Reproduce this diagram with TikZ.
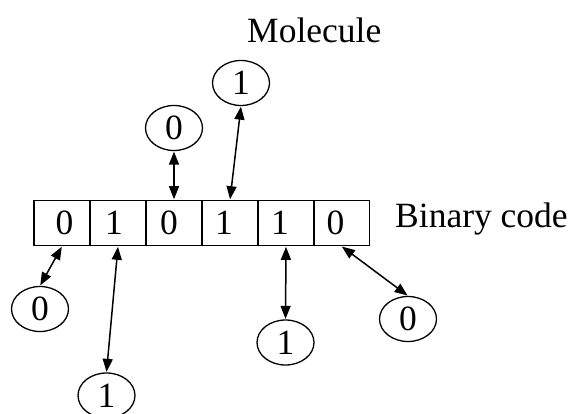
\documentclass[tikz,border=0pt]{standalone}
\usepackage{fontspec}
\setmainfont{Liberation Serif}
\usetikzlibrary{shapes.geometric,arrows.meta}
\begin{document}
\begin{tikzpicture}[x=1pt,y=-1pt,
  every node/.style={font=\fontsize{35.5}{40}\selectfont},
  cell/.style={draw,line width=1.6pt,rectangle,minimum width=56pt,minimum height=45pt,inner sep=0pt},
  bit/.style={draw,line width=1.3pt,ellipse,minimum width=57pt,minimum height=45pt,inner sep=0pt},
  link/.style={line width=1.5pt,{Triangle[length=13pt,width=10pt]}-{Triangle[length=13pt,width=10pt]},shorten <=0.5pt,shorten >=0.5pt}]
\useasboundingbox (0,0) rectangle (577,414);
% cells
\node[cell] (c1) at (62,223) {\hspace*{5pt}0};
\node[cell] (c2) at (118,223) {1\hspace*{8pt}};
\node[cell] (c3) at (174,223) {0\hspace*{10pt}};
\node[cell] (c4) at (230,223) {1\hspace*{12pt}};
\node[cell] (c5) at (286,223) {1\hspace*{12pt}};
\node[cell] (c6) at (341.5,223) {0\hspace*{12pt}};
% labels
\node[anchor=base west,inner sep=0pt] (bc) at (395,227) {Binary code};
\node[anchor=base west,inner sep=0pt] (mol) at (247,43) {Molecule};
% ellipses
\node[bit] (e1) at (40,309) {0};
\node[bit] (e2) at (106.5,395.5) {1};
\node[bit] (e3) at (174,128) {0};
\node[bit] (e4) at (241,83) {1};
\node[bit] (e5) at (285.5,342.5) {1};
\node[bit] (e6) at (408,319) {0};
% connectors
\draw[link] (c1.south) -- (e1.north);
\draw[link] (c2.south) -- (e2.north);
\draw[link] (c3.north) -- (e3.south);
\draw[link] (c4.north) -- (e4.south);
\draw[link] (c5.south) -- (e5.north);
\draw[link] (c6.south) -- (e6.north);
\end{tikzpicture}
\end{document}
